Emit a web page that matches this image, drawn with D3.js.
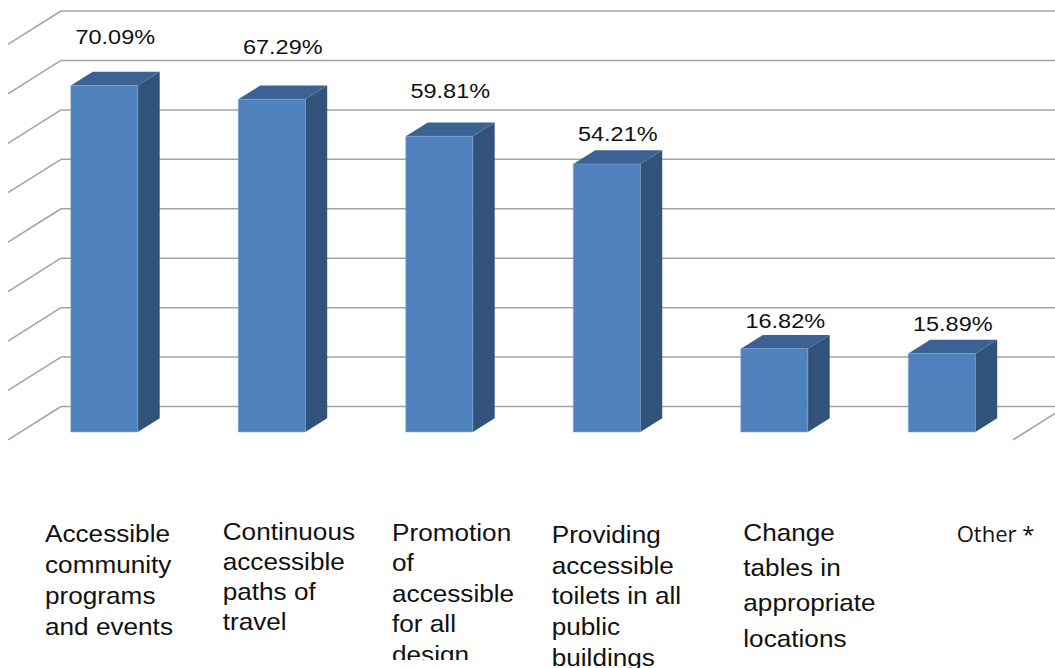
<!DOCTYPE html>
<html>
<head>
<meta charset="utf-8">
<script src="https://cdn.jsdelivr.net/npm/d3@7/dist/d3.min.js"></script>
<style>
  html, body { margin: 0; padding: 0; background: #ffffff; }
  svg { display: block; }
</style>
</head>
<body>
<svg id="chart" width="1055" height="668"></svg>
<script>
// ---- data ----
const categories = [
  "Accessible community programs and events",
  "Continuous accessible paths of travel",
  "Promotion of accessible for all design",
  "Providing accessible toilets in all public buildings",
  "Change tables in appropriate locations",
  "Other *"
];
const values = [70.09, 67.29, 59.81, 54.21, 16.82, 15.89];
const valueLabels = ["70.09%", "67.29%", "59.81%", "54.21%", "16.82%", "15.89%"];
const tickLabels = [
  ["Accessible", "community", "programs", "and events"],
  ["Continuous", "accessible", "paths of", "travel"],
  ["Promotion", "of", "accessible", "for all", "design"],
  ["Providing", "accessible", "toilets in all", "public", "buildings"],
  ["Change", "tables in", "appropriate", "locations"],
  ["Other *"]
];
const gridTicks = [0, 10, 20, 30, 40, 50, 60, 70, 80];

// ---- layout ----
const svg = d3.select("#chart");
const wall = { left: 61, right: 1066, top: 11, bottom: 406.5 };   // back wall of the 3-D box
const depth = { dx: -53, dy: 33.4 };                               // oblique depth vector (back -> front)
const barFront = 0.763, barBack = 0.35;                            // bar slab position along the depth

// hand-placed text boxes (offsets from the bar's front face)
const valueLift = [41, 45, 38, 23, 21, 22];
const tickDx = [-25.8, -15.6, -13.8, -21.6, 2.5, 48.4];
const tickFirst = [542, 540, 541, 543, 540.7, 541.7];
const tickLead = [31, 30, 30.5, 30.7, 35.3, 30];

const x = d3.scaleBand()
  .domain(d3.range(categories.length))
  .range([wall.left, wall.right])
  .paddingInner(0.6)
  .paddingOuter(0.3);
const y = d3.scaleLinear().domain([0, 80]).range([wall.bottom, wall.top]);

const proj = (px, py, s) => [px + s * depth.dx, py + s * depth.dy];
const line = d3.line();

// ---- gridlines: back wall + left side wall ----
const grid = svg.append("g")
  .attr("fill", "none")
  .attr("stroke", "#a3a3a3")
  .attr("stroke-width", 1.5);

grid.selectAll("line.h")
  .data(gridTicks)
  .join("line")
  .attr("class", "h")
  .attr("x1", wall.left).attr("x2", wall.right)
  .attr("y1", d => y(d)).attr("y2", d => y(d));

grid.selectAll("path.side")
  .data(gridTicks)
  .join("path")
  .attr("class", "side")
  .attr("d", d => line([[wall.left, y(d)], proj(wall.left, y(d), 1)]));

// right edge of the floor
grid.append("path")
  .attr("d", line([[wall.right, y(0)], proj(wall.right, y(0), 1)]));

// ---- 3-D bars ----
const bw = x.bandwidth();
const bars = svg.append("g").selectAll("g.bar")
  .data(values)
  .join("g")
  .attr("class", "bar");

bars.append("path") // right side
  .attr("fill", "#31527a")
  .attr("d", (v, i) => {
    const x1 = x(i) + bw, yt = y(v), yb = y(0);
    return line([proj(x1, yt, barFront), proj(x1, yt, barBack), proj(x1, yb, barBack), proj(x1, yb, barFront)]) + "Z";
  });

bars.append("path") // top
  .attr("fill", "#3b6292")
  .attr("d", (v, i) => {
    const x0 = x(i), x1 = x0 + bw, yt = y(v);
    return line([proj(x0, yt, barFront), proj(x0, yt, barBack), proj(x1, yt, barBack), proj(x1, yt, barFront)]) + "Z";
  });

bars.append("path") // front
  .attr("fill", "#4f81bd")
  .attr("stroke", "rgba(130,165,215,0.55)")
  .attr("stroke-width", 1)
  .attr("d", (v, i) => {
    const x0 = x(i), x1 = x0 + bw, yt = y(v), yb = y(0);
    return line([proj(x0, yt, barFront), proj(x1, yt, barFront), proj(x1, yb, barFront), proj(x0, yb, barFront)]) + "Z";
  });

// ---- value labels ----
svg.append("g").selectAll("text")
  .data(values)
  .join("text")
  .attr("transform", (v, i) => {
    const [cx] = proj(x(i) + bw / 2, y(v), (barFront + barBack) / 2);
    const [, fy] = proj(x(i), y(v), barFront);
    return `translate(${cx},${fy - valueLift[i]}) scale(1.12,1)`;
  })
  .attr("text-anchor", "middle")
  .attr("font-family", "'Liberation Sans', Arial, sans-serif")
  .attr("font-size", 21)
  .attr("fill", "#111")
  .text((v, i) => valueLabels[i]);

// ---- category labels ----
svg.append("defs").append("clipPath").attr("id", "tickClip")
  .append("rect").attr("x", 0).attr("y", 0).attr("width", 1055).attr("height", 660);

const ticks = svg.append("g").selectAll("text")
  .data(tickLabels)
  .join("text")
  .attr("transform", (lines, i) => {
    const [fx] = proj(x(i), y(0), barFront);
    const isOther = i === tickLabels.length - 1;
    return `translate(${fx + tickDx[i]},${tickFirst[i]}) scale(${isOther ? 1.05 : 1.09},1)`;
  })
  .attr("font-family", (lines, i) => i === tickLabels.length - 1 ? "'Open Sans', 'DejaVu Sans', sans-serif" : "'Liberation Sans', Arial, sans-serif")
  .attr("font-size", (lines, i) => i === tickLabels.length - 1 ? 21 : 24)
  .attr("fill", "#111");

ticks.each(function (lines, i) {
  d3.select(this).selectAll("tspan")
    .data(lines)
    .join("tspan")
    .attr("x", 0)
    .attr("dy", (d, k) => k === 0 ? 0 : tickLead[i])
    .text(d => d);
});

// the third label's last line runs past its text box and is cut off
ticks.filter((d, i) => i === 2).attr("clip-path", null);
const thirdBox = svg.append("g").attr("clip-path", "url(#tickClip)");
ticks.filter((d, i) => i === 2).each(function () { thirdBox.node().appendChild(this); });
</script>
</body>
</html>
